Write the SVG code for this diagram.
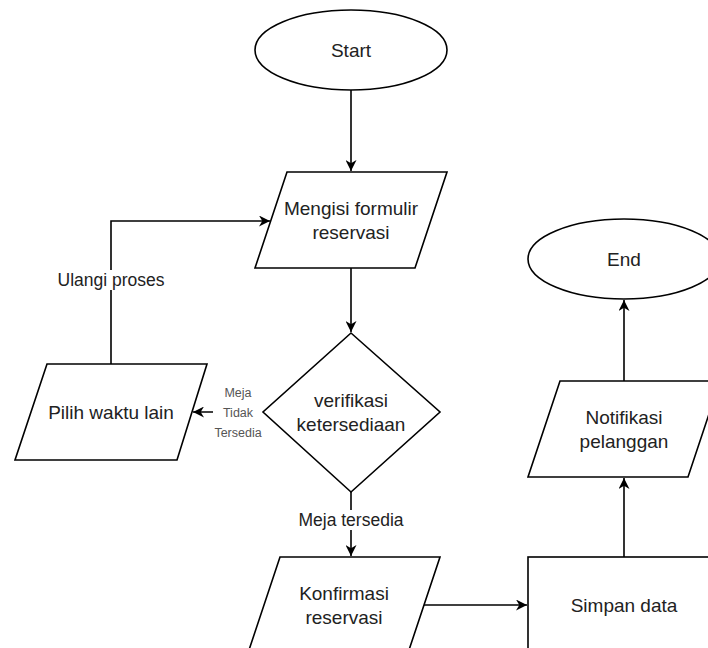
<svg xmlns="http://www.w3.org/2000/svg" width="708" height="648" viewBox="0 0 708 648">
<style>
.shape{fill:#ffffff;stroke:#000000;stroke-width:1.6}
.edge{fill:none;stroke:#000000;stroke-width:1.6}
.t{font-family:"Liberation Sans",Arial,sans-serif;font-size:19px;fill:#222222;text-anchor:middle}
.lbl{font-family:"Liberation Sans",Arial,sans-serif;font-size:17.5px;fill:#222222;text-anchor:middle}
.sm{font-family:"Liberation Sans",Arial,sans-serif;font-size:12.5px;fill:#555555;text-anchor:middle}
</style>
<defs>
<marker id="arr" viewBox="0 0 10 10" refX="10" refY="5" markerWidth="11" markerHeight="11" markerUnits="userSpaceOnUse" orient="auto">
<path d="M0,0 L10,5 L0,10 L3,5 z" fill="#000000"/>
</marker>
</defs>
<rect x="0" y="0" width="708" height="648" fill="#ffffff"/>

<g id="connectors">
<path class="edge" d="M351,90 L351,171" marker-end="url(#arr)"/>
<path class="edge" d="M351,268 L351,332" marker-end="url(#arr)"/>
<path class="edge" d="M263,412 L193,412" marker-end="url(#arr)"/>
<path class="edge" d="M111,364 L111,221 L270,221" marker-end="url(#arr)"/>
<path class="edge" d="M351,492 L351,556" marker-end="url(#arr)"/>
<path class="edge" d="M424,605 L527,605" marker-end="url(#arr)"/>
<path class="edge" d="M624,557 L624,478" marker-end="url(#arr)"/>
<path class="edge" d="M624,381 L624,300" marker-end="url(#arr)"/>
<g id="edge-labels">
<rect x="56" y="270" width="110" height="20" fill="#ffffff"/>
<text class="lbl" x="111" y="286">Ulangi proses</text>
<rect x="296" y="510" width="110" height="20" fill="#ffffff"/>
<text class="lbl" x="351" y="526">Meja tersedia</text>
<rect x="213" y="384" width="50" height="58" fill="#ffffff"/>
<text class="sm" x="238" y="397">Meja</text>
<text class="sm" x="238" y="417">Tidak</text>
<text class="sm" x="238" y="437">Tersedia</text>
</g>
</g>

<g id="start">
<ellipse class="shape" cx="351" cy="50" rx="96" ry="40"/>
<text class="t" x="351" y="57">Start</text>
</g>

<g id="mengisi">
<polygon class="shape" points="287,172 447,172 415,268 255,268"/>
<text class="t" x="351" y="215">Mengisi formulir</text>
<text class="t" x="351" y="239">reservasi</text>
</g>

<g id="verifikasi">
<polygon class="shape" points="351,333 440,412 351,492 263,412"/>
<text class="t" x="351" y="407">verifikasi</text>
<text class="t" x="351" y="431">ketersediaan</text>
</g>

<g id="pilih">
<polygon class="shape" points="47,364 207,364 177,460 15,460"/>
<text class="t" x="111" y="419">Pilih waktu lain</text>
</g>

<g id="konfirmasi">
<polygon class="shape" points="280,557 440,557 408,653 248,653"/>
<text class="t" x="344" y="600">Konfirmasi</text>
<text class="t" x="344" y="624">reservasi</text>
</g>

<g id="simpan">
<rect class="shape" x="528" y="557" width="192" height="96"/>
<text class="t" x="624" y="612">Simpan data</text>
</g>

<g id="notifikasi">
<polygon class="shape" points="560,381 720,381 688,477 528,477"/>
<text class="t" x="624" y="424">Notifikasi</text>
<text class="t" x="624" y="448">pelanggan</text>
</g>

<g id="end">
<ellipse class="shape" cx="624" cy="259" rx="96" ry="40"/>
<text class="t" x="624" y="266">End</text>
</g>
</svg>
